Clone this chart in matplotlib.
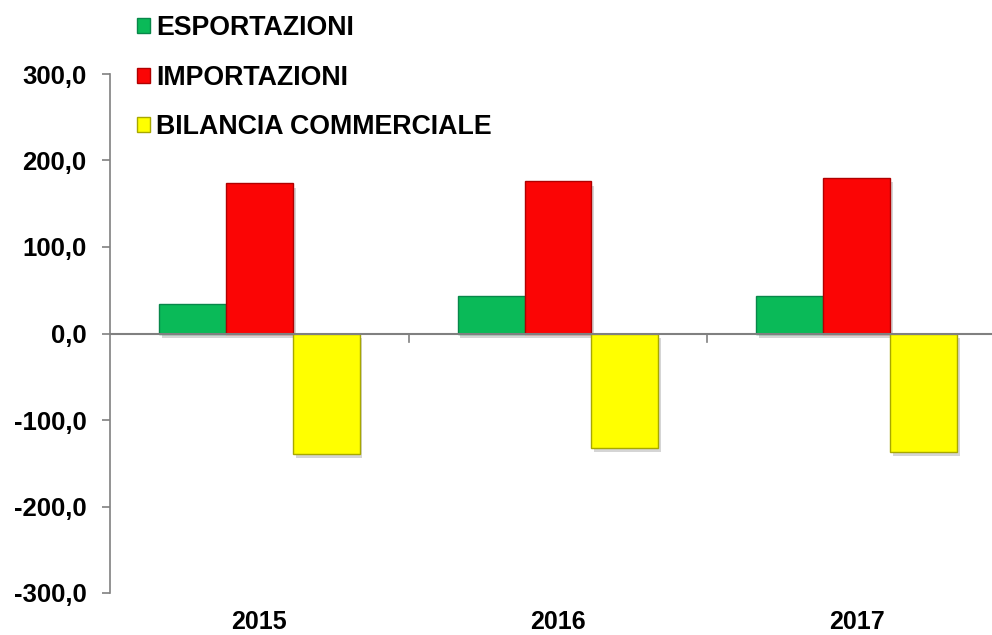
import matplotlib
matplotlib.use("Agg")
import matplotlib.pyplot as plt
import matplotlib.patheffects as pe
from matplotlib.patches import Patch
import numpy as np

plt.rcParams['font.family'] = ['Liberation Sans', 'DejaVu Sans']

years = ["2015", "2016", "2017"]
series_names = ["ESPORTAZIONI", "IMPORTAZIONI", "BILANCIA COMMERCIALE"]
esportazioni = [34.3, 43.5, 43.1]
importazioni = [173.6, 175.9, 180.1]
bilancia = [-139.3, -132.4, -137.0]
y_ticks = [-300, -200, -100, 0, 100, 200, 300]

face = ["#0ABA58", "#FB0505", "#FFFF00"]
edge = ["#08874A", "#B00000", "#A8A800"]

fig = plt.figure(figsize=(9.92, 6.35), dpi=100)
ax = fig.add_axes([110/992, 42/635, 896/992, 519/635])

x = np.arange(len(years))
w = 0.224
shadow = [pe.SimplePatchShadow(offset=(2, -3), shadow_rgbFace='#888888', alpha=0.35), pe.Normal()]
for i, vals in enumerate([esportazioni, importazioni, bilancia]):
    bars = ax.bar(x + (i - 1) * w, vals, width=w, color=face[i], edgecolor=edge[i],
                  linewidth=1.0, zorder=3, label=series_names[i])
    for b in bars:
        b.set_path_effects(shadow)

ax.set_xlim(-0.5, len(years) - 0.5)
ax.set_ylim(-300, 300)
ax.set_yticks(y_ticks)
ax.set_yticklabels([f"{v:.1f}".replace('.', ',') for v in y_ticks],
                   fontsize=18.5, fontweight='bold')
ax.tick_params(axis='y', length=5.5, width=1.2, color='#808080', pad=11.5)

ax.set_xticks(x)
ax.set_xticklabels(years, fontsize=18, fontweight='bold')
ax.tick_params(axis='x', length=0, pad=12)

for s in ['top', 'right', 'bottom']:
    ax.spines[s].set_visible(False)
ax.spines['left'].set_color('#808080')
ax.spines['left'].set_linewidth(1.2)

ax.axhline(0, color='#808080', linewidth=1.5, zorder=4)
for b in x[:-1] + 0.5:
    ax.plot([b, b], [0, -10], color='#808080', linewidth=1.2, zorder=4)

handles = [Patch(facecolor=face[i], edgecolor=edge[i], label=series_names[i]) for i in range(3)]
leg = fig.legend(handles=handles, loc='upper left', bbox_to_anchor=(137/992, 1 - 15/635),
                 frameon=False, prop={'size': 19.3, 'weight': 'bold'},
                 handlelength=0.48, handleheight=0.48, handletextpad=0.22,
                 labelspacing=0.88, borderaxespad=0, borderpad=0)

fig.savefig("out.png", dpi=100)
